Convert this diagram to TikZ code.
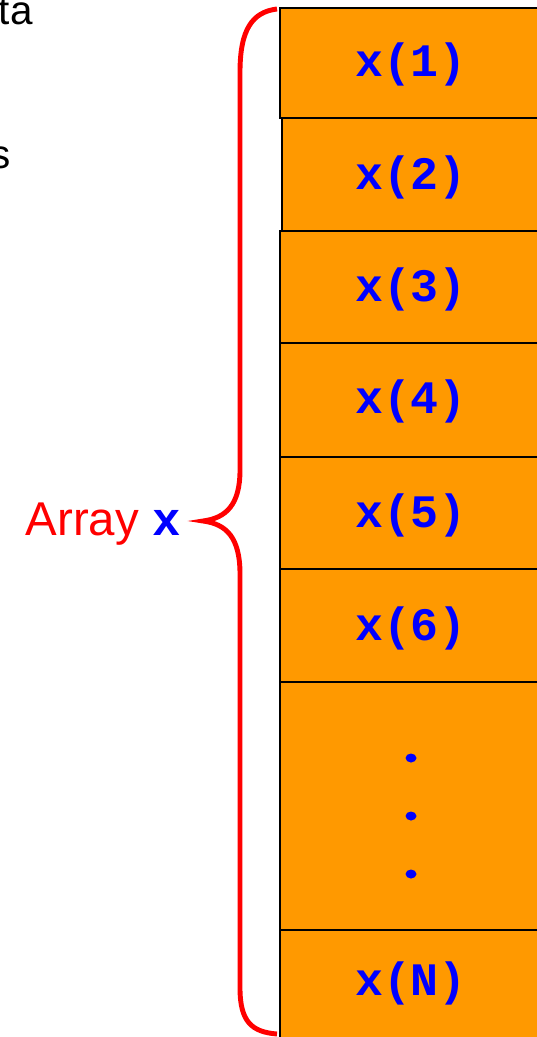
\documentclass[tikz,border=0pt]{standalone}
\usepackage{fontspec}
\usepackage{xcolor}
\setmainfont{Liberation Sans}
\newfontfamily\codefont{Liberation Mono}
\definecolor{cellorange}{HTML}{FF9900}
\definecolor{codeblue}{HTML}{0000FF}
\definecolor{bracered}{HTML}{FF0000}
\newcommand{\codetext}[1]{{\codefont\bfseries #1}}

\begin{document}
\begin{tikzpicture}[x=0.02cm, y=-0.02cm,
    cellbox/.style={fill=cellorange, draw=black, line width=1.1pt},
    celltext/.style={codeblue, font=\fontsize{26.5}{30}\selectfont\codefont\bfseries, inner sep=0pt}]
    \useasboundingbox (0,0) rectangle (537,1037);

    % Text cut off at the left edge
    \node[anchor=base east, inner sep=0pt, font=\fontsize{23}{27}\selectfont] (textA) at (33,25) {ta};
    \node[anchor=base east, inner sep=0pt, font=\fontsize{23}{27}\selectfont] (textB) at (11,169) {s};

    % Array cells
    \draw[cellbox, line width=1.6pt] (280,8) rectangle (600,118);
    \draw[cellbox] (282,118) rectangle (600,231);
    \draw[cellbox] (280,231) rectangle (600,343);
    \draw[cellbox] (280,343) rectangle (600,457);
    \draw[cellbox] (280,457) rectangle (600,569);
    \draw[cellbox] (280,569) rectangle (600,682);
    \draw[cellbox] (280,682) rectangle (600,930);
    \draw[cellbox] (280,930) rectangle (600,1060);

    % Cell labels
    \node[celltext] (cellA) at (411,64) {x(1)};
    \node[celltext] (cellB) at (411,177) {x(2)};
    \node[celltext] (cellC) at (411,289) {x(3)};
    \node[celltext] (cellD) at (411,401) {x(4)};
    \node[celltext] (cellE) at (411,515) {x(5)};
    \node[celltext] (cellF) at (411,628) {x(6)};
    \node[celltext] (cellN) at (411,983) {x(N)};

    % Dots for the cells in between
    \fill[codeblue] (411,758) ellipse (5.5 and 4.5) coordinate (dotA);
    \fill[codeblue] (411,816) ellipse (5.5 and 4.5) coordinate (dotB);
    \fill[codeblue] (411,874) ellipse (5.5 and 4.5) coordinate (dotC);

    % Brace round the array
    \draw[bracered, line width=2.8pt]
        (277,9) .. controls (252,12) and (240,30) .. (240,72)
        -- (240,470) .. controls (240,505) and (226,518) .. (203,521)
        .. controls (226,524) and (240,537) .. (240,574)
        -- (240,988) .. controls (240,1022) and (252,1032) .. (277,1034);

    % Array label
    \node[anchor=base east, inner sep=0pt, font=\fontsize{27}{31}\selectfont] (arrayLabel) at (181,535)
        {\textcolor{bracered}{Array} \textcolor{codeblue}{\codetext{x}}};
\end{tikzpicture}
\end{document}
